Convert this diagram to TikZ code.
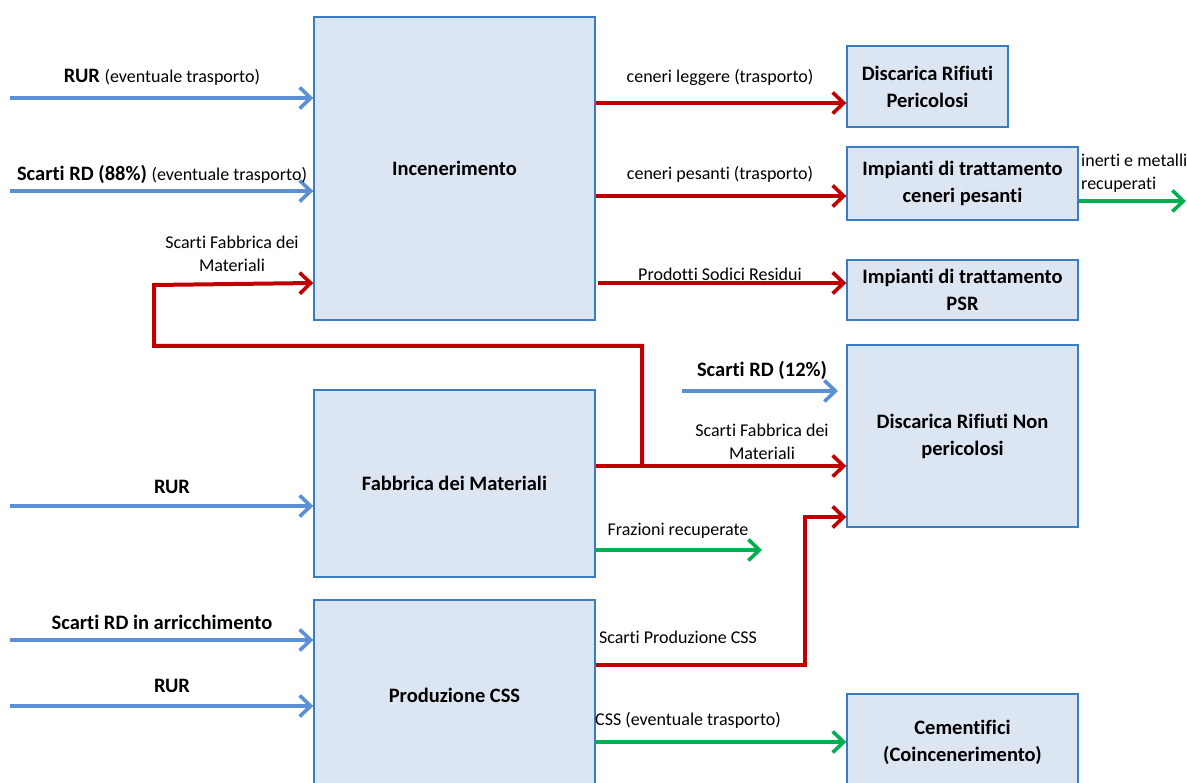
\documentclass[tikz,border=0pt]{standalone}
\usepackage{fontspec}
\setmainfont{Carlito}[Ligatures=NoCommon]
\usetikzlibrary{arrows.meta}
\definecolor{flowblue}{HTML}{5B8FD6}
\definecolor{flowred}{HTML}{C00000}
\definecolor{flowgreen}{HTML}{00B050}
\definecolor{boxfill}{HTML}{DCE6F2}
\definecolor{boxline}{HTML}{3A7CC4}
\newcommand{\bigfont}{\fontsize{20.5}{27}\selectfont}
\newcommand{\smallfont}{\fontsize{18}{23}\selectfont}
\tikzset{
  proc/.style={draw=boxline, fill=boxfill, line width=1.4pt, rectangle, align=center,
    font=\bigfont\bfseries, inner sep=0pt},
  flow/.style={line width=4pt, -{Straight Barb[length=11pt,width=21pt,line width=3.6pt]}},
  bluef/.style={flow, draw=flowblue},
  redf/.style={flow, draw=flowred},
  greenf/.style={flow, draw=flowgreen},
  lbl/.style={font=\smallfont, align=center, inner sep=0pt, yshift=-2pt},
  blbl/.style={lbl, font=\bigfont\bfseries},
}
\begin{document}
\begin{tikzpicture}[x=1pt,y=-1pt]
\useasboundingbox (0,0) rectangle (1187,783);
\begin{scope}
\clip (0,0) rectangle (1187,783);
% process boxes
\node[proc, minimum width=281pt, minimum height=303pt] (inc) at (454.5,168.5) {Incenerimento};
\node[proc, minimum width=281pt, minimum height=187pt] (fab) at (454.5,483.5) {Fabbrica dei Materiali};
\node[proc, minimum width=281pt, minimum height=190pt] (css) at (454.5,695) {Produzione CSS};
% destination boxes
\node[proc, minimum width=161pt, minimum height=81pt] (dp) at (927.5,86.5) {Discarica Rifiuti\\Pericolosi};
\node[proc, minimum width=231pt, minimum height=73pt] (icp) at (962.5,183.5) {Impianti di trattamento\\ceneri pesanti};
\node[proc, minimum width=231pt, minimum height=60pt] (psr) at (962.5,290) {Impianti di trattamento\\PSR};
\node[proc, minimum width=231pt, minimum height=182pt] (dnp) at (962.5,436) {Discarica Rifiuti Non\\pericolosi};
\node[proc, minimum width=231pt, minimum height=96pt] (cem) at (962.5,742) {Cementifici\\(Coincenerimento)};
\end{scope}

% free ends of the incoming and outgoing flows
\coordinate (in1) at (10,98);
\coordinate (in2) at (10,191);
\coordinate (in3) at (10,506);
\coordinate (in4) at (10,640);
\coordinate (in5) at (10,706);
\coordinate (rd12) at (682,391);
\coordinate (fraz) at (762,550);
\coordinate (inerti) at (1186,201);
\coordinate (jf) at (642,466);
\coordinate (jc) at (805,665);

% inputs
\draw[bluef] (in1) -- (inc.west |- in1);
\draw[bluef] (in2) -- (inc.west |- in2);
\draw[bluef] (in3) -- (fab.west |- in3);
\draw[bluef] (in4) -- (css.west |- in4);
\draw[bluef] (in5) -- (css.west |- in5);
\draw[bluef] (rd12) -- (838,391);

% incineration outputs
\draw[redf] (inc.east |- 0,103) -- (dp.west |- 0,103);
\draw[redf] (inc.east |- 0,196) -- (icp.west |- 0,196);
\draw[redf] ([xshift=2pt]inc.east |- 0,283) -- (psr.west |- 0,283);
\draw[greenf] (icp.east |- inerti) -- (inerti);

% materials factory outputs
\draw[redf] (fab.east |- jf) -- (dnp.west |- jf);
\draw[redf] (jf) -- (642,346) -- (154,346) -- (154,285) -- (inc.west |- 0,283);
\draw[greenf] (fab.east |- fraz) -- (fraz);

% CSS outputs
\draw[redf] (css.east |- jc) -- (jc) -- (805,517) -- (dnp.west |- 0,517);
\draw[greenf] (css.east |- 0,742) -- (cem.west |- 0,742);

% labels
\node[lbl] (l1) at (162,75) {\bigfont\bfseries RUR \smallfont\mdseries(eventuale trasporto)};
\node[lbl] (l2) at (162,172) {\bigfont\bfseries Scarti RD (88\%) \smallfont\mdseries(eventuale trasporto)};
\node[lbl] (l3) at (232,252) {Scarti Fabbrica dei\\Materiali};
\node[blbl] (l4) at (172,485) {RUR};
\node[blbl] (l5) at (162,620) {Scarti RD in arricchimento};
\node[blbl] (l6) at (172,684) {RUR};
\node[lbl] (l7) at (720,75) {ceneri leggere (trasporto)};
\node[lbl] (l8) at (720,172) {ceneri pesanti (trasporto)};
\node[lbl] (l9) at (720,272) {Prodotti Sodici Residui};
\node[lbl, align=left, anchor=west] (l10) at (1081,171) {inerti e metalli\\recuperati};
\node[blbl] (l11) at (762,368) {Scarti RD (12\%)};
\node[lbl] (l12) at (762,440) {Scarti Fabbrica dei\\Materiali};
\node[lbl] (l13) at (678,529) {Frazioni recuperate};
\node[lbl] (l14) at (678,635) {Scarti Produzione CSS};
\node[lbl] (l15) at (688,718) {CSS (eventuale trasporto)};
\end{tikzpicture}
\end{document}
